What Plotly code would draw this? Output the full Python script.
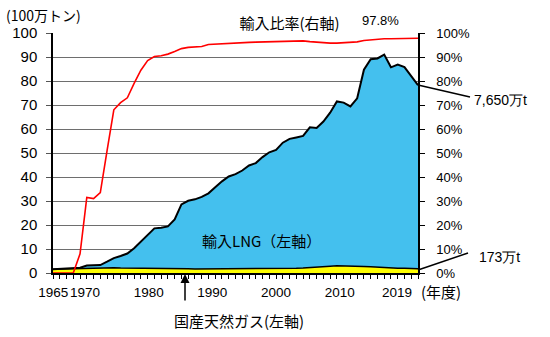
import plotly.graph_objects as go

years = list(range(1965, 2020))
domestic = [1.6, 1.7, 1.8, 1.9, 2.0, 2.1, 2.1, 2.2, 2.3, 2.2,
            2.1, 2.1, 2.1, 2.1, 2.1, 2.0, 1.9, 1.9, 1.8, 1.8,
            1.8, 1.7, 1.7, 1.7, 1.7, 1.7, 1.7, 1.7, 1.7, 1.8,
            1.8, 1.8, 1.8, 1.8, 1.8, 1.9, 2.0, 2.1, 2.2, 2.4,
            2.6, 2.8, 3.0, 3.0, 2.9, 2.8, 2.7, 2.6, 2.4, 2.2,
            2.1, 2.0, 2.0, 1.9, 1.73]
lng = [0, 0, 0, 0, 0.2, 1.0, 1.0, 1.1, 2.4, 4.0,
       5.0, 6.0, 8.2, 11.0, 14.0, 16.6, 17.0, 17.5, 20.5, 26.8,
       28.3, 29.0, 30.0, 31.5, 34.0, 36.5, 38.5, 39.5, 41.0, 43.0,
       44.0, 46.5, 48.5, 49.5, 52.5, 54.0, 54.5, 55.0, 58.5, 58.0,
       60.5, 64.0, 68.5, 68.0, 66.5, 70.0, 82.0, 86.5, 87.0, 88.8,
       83.6, 84.8, 83.8, 80.0, 76.5]
ratio = [0, 0, 0, 0, 8, 31.5, 31, 33.5, 51, 68,
         71, 73, 79, 84.5, 88.5, 90.2, 90.5, 91.2, 92.3, 93.5,
         94.0, 94.3, 94.4, 95.2, 95.4, 95.6, 95.7, 95.8, 95.9, 96.1,
         96.2, 96.3, 96.4, 96.6, 96.7, 96.8, 96.8, 96.7, 96.4, 96.1,
         95.8, 95.8, 95.8, 95.9, 96.0, 96.3, 96.9, 97.2, 97.4, 97.6,
         97.6, 97.6, 97.6, 97.7, 97.8]
year_labels = [1965, 1970, 1980, 1990, 2000, 2010, 2019]
left_ticks = list(range(0, 101, 10))

NUM = "Liberation Sans, Arial, sans-serif"
JP = "Noto Sans CJK JP, sans-serif"

fig = go.Figure()
fig.add_trace(go.Scatter(x=years, y=domestic, stackgroup="one", mode="lines",
                         line=dict(color="black", width=1.5), fillcolor="#FFFF00",
                         showlegend=False, hoverinfo="skip"))
fig.add_trace(go.Scatter(x=years, y=lng, stackgroup="one", mode="lines",
                         line=dict(color="black", width=2), fillcolor="#44C0EE",
                         showlegend=False, hoverinfo="skip"))
fig.add_trace(go.Scatter(x=years, y=ratio, yaxis="y2", mode="lines",
                         line=dict(color="#FF0000", width=1.6),
                         showlegend=False, hoverinfo="skip"))
# empty trace to host the label axis
fig.add_trace(go.Scatter(x=[], y=[], xaxis="x2", showlegend=False, hoverinfo="skip"))

L, R, T, B = 53, 132, 33, 64
W, H = 550, 337

fig.update_layout(
    width=W, height=H,
    margin=dict(l=L, r=R, t=T, b=B),
    paper_bgcolor="white", plot_bgcolor="white",
    xaxis=dict(range=[1965, 2019], tickmode="linear", tick0=1965, dtick=1,
               ticks="outside", ticklen=4, tickcolor="black", tickwidth=1,
               showticklabels=False, showgrid=False, zeroline=False,
               showline=True, linecolor="black", linewidth=1.5),
    xaxis2=dict(overlaying="x", anchor="y", side="bottom",
                range=[1964.97, 2022.3], tickmode="array", tickvals=year_labels,
                ticktext=[str(v) for v in year_labels], ticks="", tickangle=0,
                showgrid=False, zeroline=False, showline=False,
                tickfont=dict(family=NUM, size=13.5, color="black"),
                ticklabelstandoff=9),
    yaxis=dict(range=[0, 100], tickmode="array", tickvals=left_ticks,
               ticks="outside", ticklen=5, tickcolor="#555555",
               showgrid=True, gridcolor="#6e6e6e", gridwidth=1,
               zeroline=False, showline=True, linecolor="black", linewidth=1.5,
               tickfont=dict(family=NUM, size=15, color="black"),
               ticklabelstandoff=6),
    yaxis2=dict(range=[0, 100], overlaying="y", side="right", anchor="x",
                tickmode="array", tickvals=left_ticks,
                ticktext=[f"{v}%" for v in left_ticks],
                ticks="outside", ticklen=5, tickcolor="black",
                showgrid=False, zeroline=False, showline=True,
                linecolor="black", linewidth=1.5,
                tickfont=dict(family=NUM, size=13, color="black"),
                ticklabelstandoff=9),
)


def px(xp):
    return (xp - L) / (W - L - R)


def py(yp):
    return (H - B - yp) / (H - T - B)


ann = []
ann.append(dict(text="(100万トン)", x=px(4), y=py(15), xanchor="left", yanchor="middle",
                font=dict(family=JP, size=14, color="black")))
ann.append(dict(text="輸入比率(右軸)", x=px(289.5), y=py(22), xanchor="center", yanchor="middle",
                width=135, height=24, bgcolor="white", borderpad=0,
                font=dict(family=JP, size=15, color="black")))
ann.append(dict(text="97.8%", x=px(380), y=py(21), xanchor="center", yanchor="middle",
                font=dict(family=NUM, size=13, color="black")))
ann.append(dict(text="7,650万t", x=px(472), y=py(100), xanchor="left", yanchor="middle",
                font=dict(family=NUM, size=14, color="black")))
ann.append(dict(text="173万t", x=px(477), y=py(257), xanchor="left", yanchor="middle",
                font=dict(family=NUM, size=14, color="black")))
ann.append(dict(text="輸入LNG（左軸）", x=px(261), y=py(240), xanchor="center", yanchor="middle",
                font=dict(family=JP, size=15, color="black")))
ann.append(dict(text="国産天然ガス(左軸)", x=px(239.5), y=py(320), xanchor="center", yanchor="middle",
                font=dict(family=JP, size=15, color="black")))
ann.append(dict(text="(年度)", x=px(419), y=py(291), xanchor="left", yanchor="middle",
                font=dict(family=JP, size=15, color="black")))
for a in ann:
    a.update(xref="paper", yref="paper", showarrow=False)

ann.append(dict(text="", x=px(185), y=py(274), xref="paper", yref="paper",
                showarrow=True, ax=0, ay=28, arrowhead=2, arrowsize=1.2,
                arrowwidth=1.5, arrowcolor="black"))
fig.update_layout(annotations=ann)

fig.add_shape(type="line", xref="paper", yref="paper",
              x0=px(418), y0=py(85), x1=px(470), y1=py(97),
              line=dict(color="black", width=1.5))
fig.add_shape(type="line", xref="paper", yref="paper",
              x0=px(418), y0=py(270), x1=px(468), y1=py(253),
              line=dict(color="black", width=1.5))

fig.write_html("out.html")
